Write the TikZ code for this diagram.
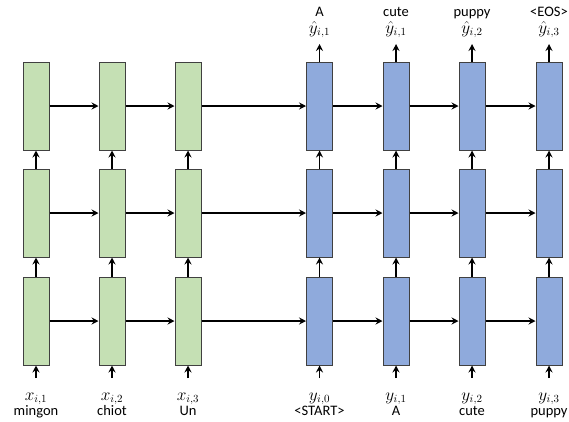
\documentclass[tikz,border=0pt]{standalone}
\usepackage{fontspec}
\setmainfont{Carlito}
\usetikzlibrary{arrows.meta}
\definecolor{gfill}{HTML}{C5E0B4}
\definecolor{bfill}{HTML}{8FAADC}
\definecolor{bord}{HTML}{404040}
\tikzset{
  cell/.style={draw=bord, line width=1pt, minimum width=26pt, minimum height=88pt, inner sep=0pt},
  enc/.style={cell, fill=gfill},
  dec/.style={cell, fill=bfill},
  conn/.style={line width=1.4pt, -{Stealth[length=7pt,width=7pt,inset=2.5pt]}},
  lbl/.style={inner sep=0pt, anchor=base, font=\fontsize{14.5}{14.5}\selectfont},
  mlbl/.style={inner sep=0pt, anchor=base, font=\fontsize{16}{16}\selectfont}
}
\begin{document}
\begin{tikzpicture}[x=1pt,y=-1pt]
\useasboundingbox (0,0) rectangle (569,421);
% encoder cells
\foreach \c/\x in {1/36,2/112,3/188}{
  \foreach \r/\y in {1/106,2/213,3/321}{
    \node[enc] (e\r\c) at (\x,\y) {};
  }
}
% decoder cells
\foreach \c/\x in {1/319.5,2/396,3/472,4/549}{
  \foreach \r/\y in {1/106,2/213,3/321}{
    \node[dec] (d\r\c) at (\x,\y) {};
  }
}
% horizontal connectors
\foreach \r in {1,2,3}{
  \draw[conn] (e\r1.east) -- (e\r2.west);
  \draw[conn] (e\r2.east) -- (e\r3.west);
  \draw[conn] (e\r3.east) -- (d\r1.west);
  \draw[conn] (d\r1.east) -- (d\r2.west);
  \draw[conn] (d\r2.east) -- (d\r3.west);
  \draw[conn] (d\r3.east) -- (d\r4.west);
}
% vertical connectors between rows
\foreach \c in {1,2,3}{
  \draw[conn] (e3\c.north) -- (e2\c.south);
  \draw[conn] (e2\c.north) -- (e1\c.south);
}
\foreach \c in {1,2,3,4}{
  \draw[conn] (d3\c.north) -- (d2\c.south);
  \draw[conn] (d2\c.north) -- (d1\c.south);
}
% encoder inputs
\foreach \c/\x/\w in {1/36/mingon,2/112/chiot,3/188/Un}{
  \coordinate (ei\c) at (\x,378);
  \draw[conn] (ei\c) -- (e3\c.south);
  \node[mlbl] (ex\c) at (\x,400) {$x_{i,\c}$};
  \node[lbl] (ew\c) at (\x,415.5) {\w};
}
% decoder inputs
\foreach \c/\x/\k/\w in {1/319.5/0/<START>,2/396/1/A,3/472/2/cute,4/549/3/puppy}{
  \coordinate (di\c) at (\x,378);
  \draw[conn] (di\c) -- (d3\c.south);
  \node[mlbl] (dy\c) at (\x,400) {$y_{i,\k}$};
  \node[lbl] (dw\c) at (\x,415.5) {\w};
}
% decoder outputs
\foreach \c/\x/\k/\w in {1/319.5/1/A,2/396/1/cute,3/472/2/puppy,4/549/3/<EOS>}{
  \coordinate (do\c) at (\x,44);
  \draw[conn] (d1\c.north) -- (do\c);
  \node[mlbl] (dh\c) at (\x,33) {$\hat{y}_{i,\k}$};
  \node[lbl] (dt\c) at (\x,16) {\w};
}
\end{tikzpicture}
\end{document}
